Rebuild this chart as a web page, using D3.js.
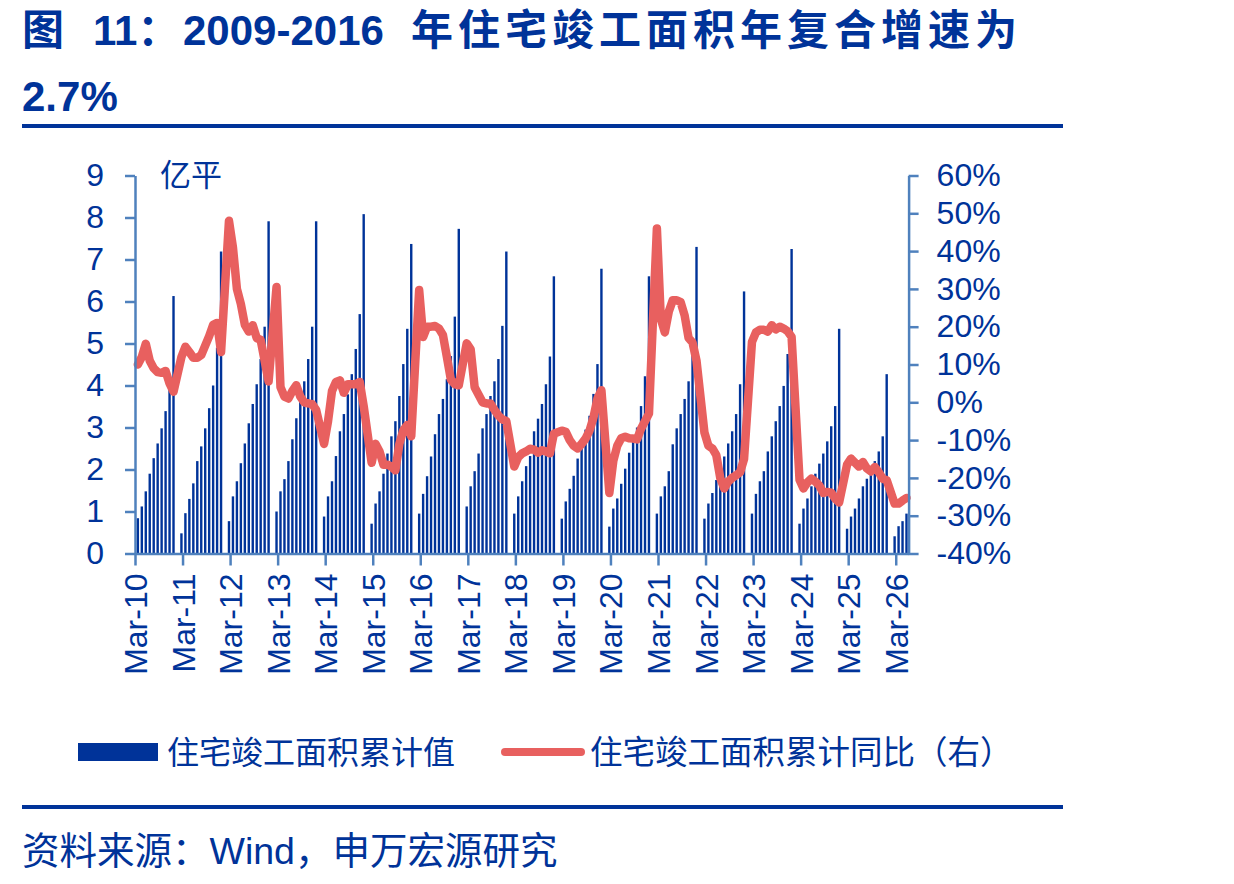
<!DOCTYPE html>
<html>
<head>
<meta charset="utf-8">
<script src="https://cdn.jsdelivr.net/npm/d3@7"></script>
<style>
  body { margin: 0; background: #fff; }
  svg text { font-family: "Liberation Sans", Arial, "Noto Sans CJK SC", sans-serif; fill: #003399; }
</style>
</head>
<body>
<svg id="chart" width="1234" height="884"></svg>
<script>
// monthly data (Jan is merged into Feb, so no January points)
const dates = [
  "2010-03","2010-04","2010-05","2010-06","2010-07","2010-08","2010-09","2010-10","2010-11","2010-12",
  "2011-02","2011-03","2011-04","2011-05","2011-06","2011-07","2011-08","2011-09","2011-10","2011-11","2011-12",
  "2012-02","2012-03","2012-04","2012-05","2012-06","2012-07","2012-08","2012-09","2012-10","2012-11","2012-12",
  "2013-02","2013-03","2013-04","2013-05","2013-06","2013-07","2013-08","2013-09","2013-10","2013-11","2013-12",
  "2014-02","2014-03","2014-04","2014-05","2014-06","2014-07","2014-08","2014-09","2014-10","2014-11","2014-12",
  "2015-02","2015-03","2015-04","2015-05","2015-06","2015-07","2015-08","2015-09","2015-10","2015-11","2015-12",
  "2016-02","2016-03","2016-04","2016-05","2016-06","2016-07","2016-08","2016-09","2016-10","2016-11","2016-12",
  "2017-02","2017-03","2017-04","2017-05","2017-06","2017-07","2017-08","2017-09","2017-10","2017-11","2017-12",
  "2018-02","2018-03","2018-04","2018-05","2018-06","2018-07","2018-08","2018-09","2018-10","2018-11","2018-12",
  "2019-02","2019-03","2019-04","2019-05","2019-06","2019-07","2019-08","2019-09","2019-10","2019-11","2019-12",
  "2020-02","2020-03","2020-04","2020-05","2020-06","2020-07","2020-08","2020-09","2020-10","2020-11","2020-12",
  "2021-02","2021-03","2021-04","2021-05","2021-06","2021-07","2021-08","2021-09","2021-10","2021-11","2021-12",
  "2022-02","2022-03","2022-04","2022-05","2022-06","2022-07","2022-08","2022-09","2022-10","2022-11","2022-12",
  "2023-02","2023-03","2023-04","2023-05","2023-06","2023-07","2023-08","2023-09","2023-10","2023-11","2023-12",
  "2024-02","2024-03","2024-04","2024-05","2024-06","2024-07","2024-08","2024-09","2024-10","2024-11","2024-12",
  "2025-02","2025-03","2025-04","2025-05","2025-06","2025-07","2025-08","2025-09","2025-10","2025-11","2025-12",
  "2026-02","2026-03","2026-04","2026-05"
];

// 住宅竣工面积累计值 (亿平)
const areaCum = [
  0.84,1.12,1.48,1.90,2.27,2.62,2.98,3.39,4.00,6.13,
  0.48,0.96,1.30,1.67,2.20,2.55,2.98,3.46,4.00,4.90,7.19,
  0.77,1.36,1.72,2.15,2.62,3.10,3.56,4.03,4.63,5.40,7.91,
  1.00,1.48,1.77,2.20,2.72,3.22,3.65,4.10,4.63,5.40,7.91,
  0.88,1.36,1.72,2.32,2.91,3.32,3.79,4.27,4.87,5.70,8.08,
  0.71,1.19,1.48,1.90,2.38,2.79,3.15,3.75,4.51,5.35,7.37,
  0.95,1.42,1.84,2.31,2.84,3.32,3.68,4.15,4.70,5.64,7.73,
  1.12,1.60,1.96,2.38,2.98,3.32,3.75,4.10,4.63,5.42,7.19,
  0.95,1.36,1.72,2.08,2.32,2.91,3.21,3.56,4.03,4.69,6.60,
  0.83,1.24,1.54,1.85,2.26,2.62,2.95,3.28,3.80,4.51,6.78,
  0.64,1.07,1.31,1.66,2.02,2.40,2.70,3.00,3.51,4.22,6.60,
  0.95,1.36,1.60,1.96,2.60,2.98,3.32,3.68,4.10,5.00,7.30,
  0.83,1.19,1.44,1.75,2.00,2.31,2.62,2.91,3.32,4.03,6.24,
  0.95,1.42,1.72,1.96,2.43,2.79,3.15,3.51,3.99,4.75,7.25,
  0.71,1.07,1.31,1.60,1.90,2.14,2.38,2.67,3.03,3.51,5.35,
  0.59,0.88,1.07,1.31,1.60,1.78,1.95,2.20,2.43,2.79,4.27,
  0.41,0.65,0.77,0.95
];

// 住宅竣工面积累计同比 (%)
const areaYoY = [
  10,12,15.5,11,9,8,7.8,8.3,5,2.8,
  12,14.7,13.3,11.8,11.8,12.5,15,17.5,20.5,21,13.3,
  48,41,30,26,20.5,18.7,20.4,17,16.5,11,5.5,
  30.5,4,1.5,1,3,4.5,1.5,0,-0.3,-0.5,-2,
  -11,-5,3,5.4,5.8,2.5,4.8,4.8,4.8,5.4,-1,
  -16,-11,-13,-16.5,-16.5,-17,-18,-11,-7.4,-6,-9,
  29.7,17.3,20,20,20.2,19.5,17.8,12,6,4.8,4.5,
  15.6,14,4,2,0,-0.3,-0.3,-2,-3.5,-4.5,-5,
  -17,-14.5,-13.5,-13,-12.3,-12.5,-13.3,-12.7,-13,-13.5,-8.3,
  -7.5,-7.8,-10,-11.5,-12.2,-11,-9.6,-7.5,-4,1,3.2,
  -24,-15.5,-11.5,-9.5,-9.1,-9.5,-9.6,-9.8,-7,-5,-3,
  46,22,18.5,24,27,27,26.5,23,17,15.8,11,
  -8,-11.5,-12.2,-14,-20,-22.8,-21,-20,-19.3,-18.5,-15,
  16,18.5,19.2,19.2,18.7,20.4,19.3,20,19.5,18.8,17.3,
  -20.5,-22.8,-21.2,-20.2,-21,-22,-24,-23.7,-23.9,-25.5,-26.5,
  -16.5,-14.9,-16,-17,-15.8,-17.5,-18.3,-17.1,-18.5,-20.2,-20.6,
  -26.8,-26.8,-26,-25.3
];

const xTickDates = ["2010-03","2011-03","2012-03","2013-03","2014-03","2015-03","2016-03","2017-03",
  "2018-03","2019-03","2020-03","2021-03","2022-03","2023-03","2024-03","2025-03","2026-03"];
const xTickLabels = ["Mar-10","Mar-11","Mar-12","Mar-13","Mar-14","Mar-15","Mar-16","Mar-17",
  "Mar-18","Mar-19","Mar-20","Mar-21","Mar-22","Mar-23","Mar-24","Mar-25","Mar-26"];
const leftTicks = [0,1,2,3,4,5,6,7,8,9];
const rightTicks = [-40,-30,-20,-10,0,10,20,30,40,50,60];

const BLUE = "#003399", RED = "#E8605F", AXIS = "#4F81BD";

// month index counted from Mar-2010
const monthIdx = s => { const [y, m] = s.split("-").map(Number); return (y - 2010) * 12 + (m - 3); };
const data = dates.map((d, i) => ({m: monthIdx(d), v: areaCum[i], p: areaYoY[i]}));

const svg = d3.select("#chart");

// title
const title = svg.append("g").attr("font-weight", "bold").style("font-size", "42px");
title.append("text").attr("x", 22).attr("y", 45).text("图");
title.append("text").attr("x", 93).attr("y", 45).text("11：");
title.append("text").attr("x", 183).attr("y", 45).text("2009-2016");
title.append("text").attr("x", 411).attr("y", 45).style("letter-spacing", "5px").text("年住宅竣工面积年复合增速为");
title.append("text").attr("x", 22).attr("y", 111).text("2.7%");
svg.append("rect").attr("x", 22).attr("y", 124).attr("width", 1041).attr("height", 4).attr("fill", BLUE);

// scales
const x = d3.scaleLinear().domain([0, 195.25]).range([135, 908.6]);
const yL = d3.scaleLinear().domain([0, 9]).range([553.5, 175.5]);
const yR = d3.scaleLinear().domain([-40, 60]).range([553.5, 175.5]);
const off = 0.72; // bar sits a bit right of the month tick
const barW = 2.4;

// bars
svg.append("g").selectAll("rect").data(data).join("rect")
  .attr("x", d => x(d.m + off) - barW / 2)
  .attr("y", d => yL(d.v))
  .attr("width", barW)
  .attr("height", d => yL(0) - yL(d.v))
  .attr("fill", BLUE);

// yoy line
const line = d3.line().x(d => x(d.m + off)).y(d => yR(d.p));
svg.append("path").datum(data)
  .attr("fill", "none").attr("stroke", RED).attr("stroke-width", 8.5)
  .attr("stroke-linejoin", "round").attr("stroke-linecap", "round")
  .attr("d", line);

// axes
function styleAxis(g) {
  g.selectAll("path.domain").attr("stroke", AXIS).attr("stroke-width", 2.5);
  g.selectAll(".tick line").attr("stroke", AXIS).attr("stroke-width", 2.5);
  g.selectAll("text").style("font-size", "32px").attr("fill", BLUE)
    .style("font-family", "'Liberation Sans', Arial, sans-serif");
}

svg.append("g").attr("transform", "translate(135,0)")
  .call(d3.axisLeft(yL).tickValues(leftTicks).tickSize(10).tickSizeOuter(0).tickPadding(21).tickFormat(d3.format("d")))
  .call(styleAxis);

svg.append("g").attr("transform", "translate(908.6,0)")
  .call(d3.axisRight(yR).tickValues(rightTicks).tickSize(10).tickSizeOuter(0).tickPadding(18).tickFormat(d => d + "%"))
  .call(styleAxis);

const xAxis = svg.append("g").attr("transform", `translate(0,${yL(0)})`)
  .call(d3.axisBottom(x).tickValues(xTickDates.map(monthIdx)).tickSize(12).tickSizeOuter(0)
    .tickFormat((d, i) => xTickLabels[i]))
  .call(styleAxis);
xAxis.selectAll(".tick text")
  .attr("transform", "rotate(-90)")
  .attr("text-anchor", "end")
  .attr("x", -20).attr("y", 0).attr("dy", "0.36em");

// unit label
svg.append("text").attr("x", 160).attr("y", 186).style("font-size", "31px").text("亿平");

// legend
svg.append("rect").attr("x", 78).attr("y", 743).attr("width", 80).attr("height", 18).attr("fill", BLUE);
svg.append("text").attr("x", 167).attr("y", 752).attr("dy", "0.36em").style("font-size", "32px").text("住宅竣工面积累计值");
svg.append("line").attr("x1", 505).attr("x2", 581).attr("y1", 752).attr("y2", 752)
  .attr("stroke", RED).attr("stroke-width", 8).attr("stroke-linecap", "round");
svg.append("text").attr("x", 590).attr("y", 752).attr("dy", "0.36em").style("font-size", "32.5px").text("住宅竣工面积累计同比（右）");

// footer
svg.append("rect").attr("x", 22).attr("y", 805).attr("width", 1041).attr("height", 4).attr("fill", BLUE);
svg.append("text").attr("x", 22).attr("y", 864).style("font-size", "37.5px").text("资料来源：Wind，申万宏源研究");
</script>
</body>
</html>
